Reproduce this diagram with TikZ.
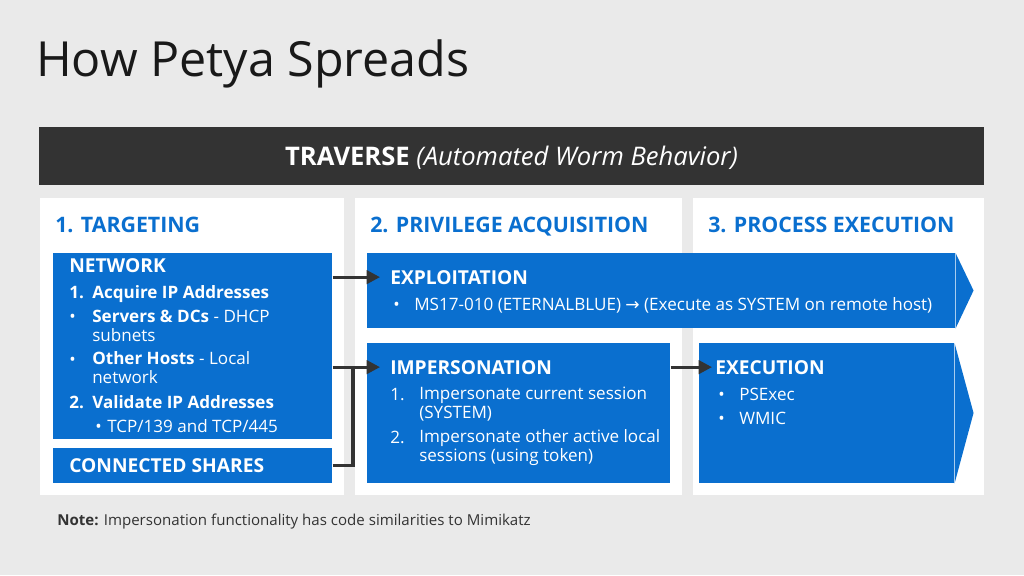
\documentclass[tikz,border=0pt]{standalone}
\usepackage{fontspec}
\setmainfont{Open Sans}
\newfontfamily\symfont{DejaVu Sans}
\usetikzlibrary{arrows.meta,positioning}
\definecolor{msblue}{HTML}{0A6FCF}
\definecolor{bargray}{HTML}{333333}
\definecolor{pagegray}{HTML}{EAEAEA}

\begin{document}
\begin{tikzpicture}[x=0.75pt,y=-0.75pt,>={Triangle[length=10pt,width=10pt]},
  bluebox/.style={fill=msblue,inner sep=0pt,anchor=north west},
  head/.style={anchor=base west,inner sep=0pt,text=msblue,font=\fontsize{16}{19}\selectfont\bfseries},
  ttl/.style={anchor=base west,inner sep=0pt,text=white,font=\fontsize{14.4}{17}\selectfont\bfseries},
  txt/.style={anchor=base west,inner sep=0pt,text=white,align=left,font=\fontsize{12.8}{13.7}\selectfont},
  txtb/.style={txt,font=\fontsize{12.8}{13.7}\selectfont\bfseries},
  link/.style={draw=bargray,line width=2.3pt,line join=miter}]
\useasboundingbox (0,0) rectangle (1024,575);
\fill[pagegray] (0,0) rectangle (1024,575);
\node[anchor=base west,inner sep=0pt,text=black!90,font=\fontsize{36.3}{40}\selectfont] (title) at (36,76) {How Petya Spreads};
\node[fill=bargray,inner sep=0pt,anchor=north west,minimum width=708.75pt,minimum height=43.5pt] (bar) at (39,127) {};
\node[anchor=base,inner sep=0pt,text=white,font=\fontsize{19.2}{22}\selectfont] (bartxt) at (511.5,165) {\textbf{TRAVERSE} \textit{(Automated Worm Behavior)}};
% panels
\fill[white] (40,198) rectangle (344,495);
\fill[white] (355,198) rectangle (682,495);
\fill[white] (693,198) rectangle (984,495);
\node[head] (h1) at (55,232) {1. TARGETING};
\node[head] (h2) at (370,232) {2. PRIVILEGE ACQUISITION};
\node[head] (h3) at (708,232) {3. PROCESS EXECUTION};
% blue boxes
\node[bluebox,minimum width=209.25pt,minimum height=139.5pt] (network) at (53,253) {};
\node[bluebox,minimum width=209.25pt,minimum height=26.25pt] (shares) at (53,448) {};
\node[bluebox,minimum width=441pt,minimum height=56.25pt] (exploit) at (367,253) {};
\fill[msblue] (exploit.north east) -- ++(18,37.5) -- (exploit.south east) -- cycle;
\node[bluebox,minimum width=227.25pt,minimum height=105pt] (imperson) at (367,343) {};
\node[bluebox,minimum width=191.25pt,minimum height=105pt] (execbox) at (699,343) {};
\fill[msblue] (execbox.north east) -- ++(19,70) -- (execbox.south east) -- cycle;
% targeting (two-line items sit on their last baseline)
\node[ttl] (nettitle) at (69,272) {NETWORK};
\node[txtb] (n1mark) at (69,298) {1.};
\node[txtb] (n1) at (92,298) {Acquire IP Addresses};
\node[txt] (b1mark) at (69,322) {•};
\node[txt] (b1) at (92,341) {\textbf{Servers \& DCs} - DHCP\\subnets};
\node[txt] (b2mark) at (69,365) {•};
\node[txt] (b2) at (92,383) {\textbf{Other Hosts} - Local\\network};
\node[txtb] (n2mark) at (69,408) {2.};
\node[txtb] (n2) at (92,408) {Validate IP Addresses};
\node[txt] (tcpmark) at (95,432) {•};
\node[txt] (tcp) at (107,432) {TCP/139 and TCP/445};
\node[ttl] (sharestitle) at (69,472) {CONNECTED SHARES};
% privilege acquisition
\node[ttl] (exptitle) at (390,284) {EXPLOITATION};
\node[txt] (e1mark) at (393,310) {•};
\node[txt] (e1) at (414,310) {MS17-010 (ETERNALBLUE) {\symfont →} (Execute as SYSTEM on remote host)};
\node[ttl] (imptitle) at (390,374) {IMPERSONATION};
\node[txt] (i1mark) at (390,400) {1.};
\node[txt] (i1) at (419,418) {Impersonate current session\\(SYSTEM)};
\node[txt] (i2mark) at (390,443) {2.};
\node[txt] (i2) at (419,461) {Impersonate other active local\\sessions (using token)};
% process execution
\node[ttl] (exectitle) at (715,374) {EXECUTION};
\foreach \y/\t in {400/PSExec,424/WMIC}{
  \node[txt] at (718,\y) {•};
  \node[txt] at (739,\y) {\t};}
% connectors
\coordinate (join) at (353,465);
\draw[link,->,shorten >=-9.75pt] (network.east |- exptitle) -- (exploit.west |- exptitle);
\draw[link,->,shorten >=-9.75pt] (network.east |- imptitle) -- (imperson.west |- imptitle);
\draw[link] (shares.east) -| (join |- imptitle);
\draw[link,->,shorten >=-9.75pt] (imperson.east |- exectitle) -- (execbox.west |- exectitle);
\node[anchor=base west,inner sep=0pt,text=bargray,font=\fontsize{11.3}{13}\selectfont] (note) at (57,525) {\textbf{Note:} Impersonation functionality has code similarities to Mimikatz};
\end{tikzpicture}
\end{document}
